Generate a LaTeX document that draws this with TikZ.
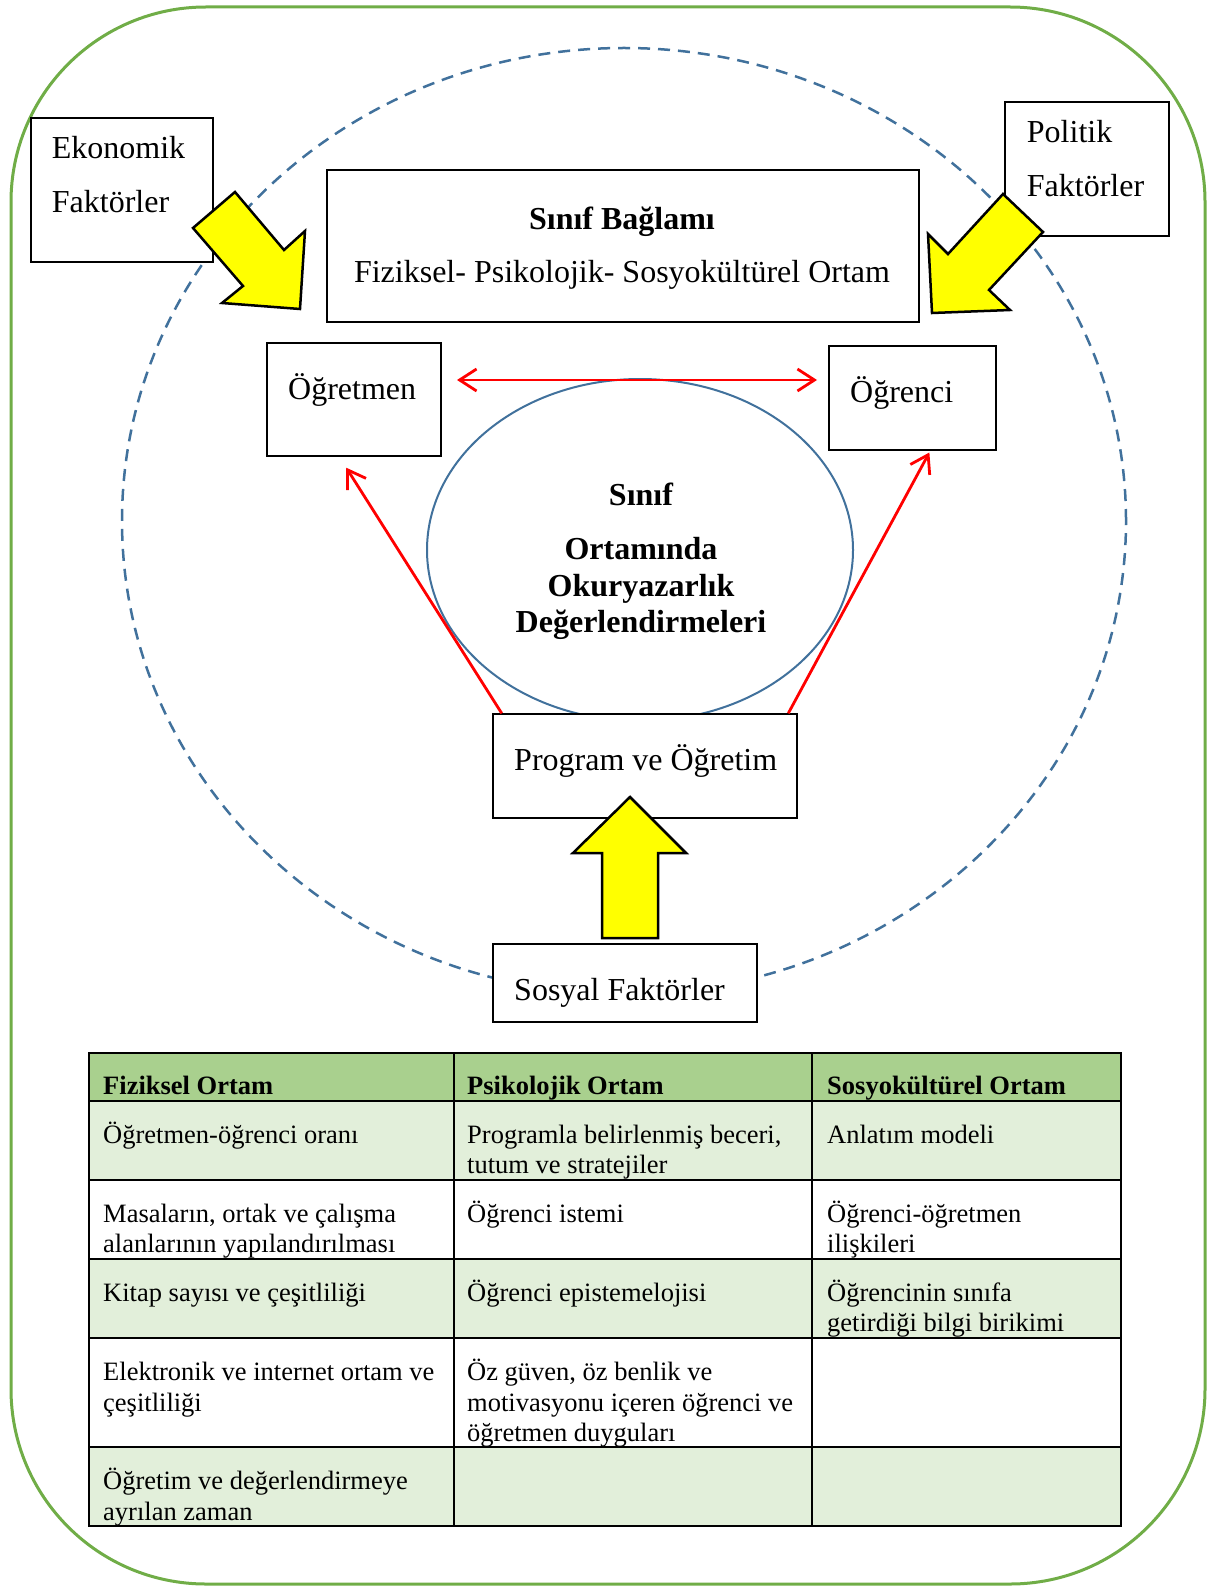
\documentclass[tikz,border=0pt]{standalone}
\usepackage{fontspec}
\setmainfont{Liberation Serif}
\usetikzlibrary{arrows.meta,calc,shapes.geometric}

\definecolor{frameGreen}{HTML}{70AD47}
\definecolor{ringBlue}{HTML}{41719C}
\definecolor{headGreen}{HTML}{A9D08E}
\definecolor{rowGreen}{HTML}{E2EFDA}
\definecolor{arrowYellow}{HTML}{FFFF00}

\begin{document}
% multi-line labels are placed by the baseline of their last line
\begin{tikzpicture}[x=1pt,y=-1pt,
  box/.style={draw=black, line width=2pt, fill=white, inner sep=0pt},
  lbl/.style={font=\fontsize{32}{54}\selectfont, inner sep=0pt, anchor=base west, align=left},
  clbl/.style={font=\fontsize{32}{53}\selectfont, inner sep=0pt, anchor=base, align=center},
  cell/.style={font=\fontsize{26.5}{30.5}\selectfont, inner sep=0pt, anchor=base west, align=left},
  hcell/.style={font=\fontsize{26.5}{30.5}\selectfont\bfseries, inner sep=0pt, anchor=base west},
  bigarrow/.style={draw=black, line width=2.5pt, fill=arrowYellow, line join=miter},
  link/.style={draw=red, line width=2.8pt},
  barb/.tip={Straight Barb[length=17pt,width=22pt]},
  grid/.style={draw=black, line width=2.5pt},
]
\useasboundingbox (0,0) rectangle (1208,1586);

% outer frame
\draw[frameGreen, line width=3pt, rounded corners=195pt] (11,7) rectangle (1205,1584);

% environment ring
\draw[ringBlue, line width=2.5pt, dash pattern=on 12pt off 8pt]
  (624,521) ellipse [x radius=502pt, y radius=473pt];

% central assessment ellipse
\node[draw=ringBlue, line width=2pt, ellipse, inner sep=0pt,
      minimum width=426pt, minimum height=342pt] (core) at (640,550) {};

% boxes
\node[box, minimum width=182.6pt, minimum height=144.6pt] (eko) at (122,190) {};
\node[box, minimum width=164pt, minimum height=133.4pt] (pol) at (1087,169) {};
\node[box, minimum width=592pt, minimum height=152pt] (ctx) at (623,246) {};
\node[box, minimum width=174.5pt, minimum height=112.7pt] (ogretmen) at (353.75,399.35) {};
\node[box, minimum width=166.7pt, minimum height=104.3pt] (ogrenci) at (912.35,397.85) {};
\node[box, minimum width=304.6pt, minimum height=104pt] (program) at (645,766.3) {};
\node[box, minimum width=264.6pt, minimum height=77.7pt] (sosyal) at (625,982.8) {};

% texts
\node[lbl] (ekoT) at (51.7,213) {Ekonomik\\Faktörler};
\node[lbl] (polT) at (1026.7,197) {Politik\\Faktörler};
\node[clbl] (ctxT) at (622,283) {\textbf{Sınıf Bağlamı}\\Fiziksel- Psikolojik- Sosyokültürel Ortam};
\node[lbl] (ogretmenT) at (288,399) {Öğretmen};
\node[lbl] (ogrenciT) at (850,402.7) {Öğrenci};
\node[lbl] (programT) at (514,770) {Program ve Öğretim};
\node[lbl] (sosyalT) at (514,1000) {Sosyal Faktörler};
\node[font=\fontsize{32}{36.5}\selectfont\bfseries, inner sep=0pt, anchor=base, align=center]
  (coreT) at (641,632.7) {Sınıf\\[18pt]Ortamında\\Okuryazarlık\\Değerlendirmeleri};

% red relations
\draw[link, barb-barb] ($(ogretmen.east)+(15,-19.35)$) -- ($(ogrenci.west)+(-11,-17.85)$);
\draw[link, -barb] ($(program.north west)+(10,0)$) -- ($(ogretmen.south)+(-7.5,11)$);
\draw[link, -barb] ($(program.north east)+(-10,0)$) -- ($(ogrenci.south)+(17,1.5)$);

% block arrows of outside factors
\draw[bigarrow] (193,228) -- (235,192) -- (284,250) -- (305,231) -- (300,309) -- (222,303) -- (243,286) -- cycle;
\draw[bigarrow] (1003,194) -- (1043,232) -- (989,290) -- (1010,310) -- (932,313) -- (928,234) -- (948,254) -- cycle;
\draw[bigarrow] (630,797) -- (686,853) -- (658,853) -- (658,938) -- (602,938) -- (602,853) -- (573,853) -- cycle;

% table: row shading
\fill[headGreen] (89,1053) rectangle (1121,1101);
\fill[rowGreen] (89,1101) rectangle (1121,1180);
\fill[rowGreen] (89,1259) rectangle (1121,1338);
\fill[rowGreen] (89,1447) rectangle (1121,1526);

% table: rules
\draw[grid] (89,1053) rectangle (1121,1526);
\foreach \yy in {1101,1180,1259,1338,1447} \draw[grid] (89,\yy) -- (1121,\yy);
\foreach \xx in {454,812} \draw[grid] (\xx,1053) -- (\xx,1526);

% table: header
\node[hcell] (h1) at (103,1094) {Fiziksel Ortam};
\node[hcell] (h2) at (467,1094) {Psikolojik Ortam};
\node[hcell] (h3) at (827,1094) {Sosyokültürel Ortam};

% table: body
\node[cell] (c11) at (103,1143) {Öğretmen-öğrenci oranı};
\node[cell] (c12) at (467,1173.5) {Programla belirlenmiş beceri,\\tutum ve stratejiler};
\node[cell] (c13) at (827,1143) {Anlatım modeli};
\node[cell] (c21) at (103,1252.5) {Masaların, ortak ve çalışma\\alanlarının yapılandırılması};
\node[cell] (c22) at (467,1222) {Öğrenci istemi};
\node[cell] (c23) at (827,1252.5) {Öğrenci-öğretmen\\ilişkileri};
\node[cell] (c31) at (103,1301) {Kitap sayısı ve çeşitliliği};
\node[cell] (c32) at (467,1301) {Öğrenci epistemelojisi};
\node[cell] (c33) at (827,1331.5) {Öğrencinin sınıfa\\getirdiği bilgi birikimi};
\node[cell] (c41) at (103,1411) {Elektronik ve internet ortam ve\\çeşitliliği};
\node[cell] (c42) at (467,1441.5) {Öz güven, öz benlik ve\\motivasyonu içeren öğrenci ve\\öğretmen duyguları};
\node[cell] (c51) at (103,1520) {Öğretim ve değerlendirmeye\\ayrılan zaman};
\end{tikzpicture}
\end{document}
